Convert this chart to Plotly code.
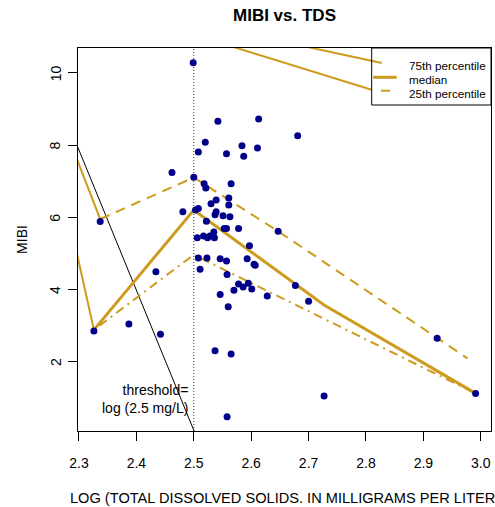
import plotly.graph_objects as go

FONT = "Liberation Sans, Arial, Helvetica, sans-serif"
GOLD = "#CD9B1D"
NAVY = "#00008B"

# Site observations: log10 of total dissolved solids (mg/L) and MIBI score
log_tds = [
    2.499, 2.542, 2.613, 2.681, 2.520, 2.508, 2.584, 2.611, 2.557, 2.587,
    2.462, 2.500, 2.518, 2.521, 2.565, 2.561, 2.539, 2.530, 2.561, 2.539,
    2.537, 2.551, 2.563, 2.481, 2.503, 2.508, 2.522, 2.553, 2.557, 2.578,
    2.647, 2.535, 2.506, 2.517, 2.524, 2.528, 2.536, 2.597, 2.508, 2.523,
    2.546, 2.557, 2.593, 2.605, 2.607, 2.511, 2.558, 2.578, 2.586, 2.595,
    2.601, 2.570, 2.628, 2.546, 2.560, 2.677, 2.700, 2.442, 2.537, 2.565,
    2.558, 2.924, 2.991, 2.727, 2.337, 2.434, 2.387, 2.326,
]
mibi = [
    10.28, 8.66, 8.72, 8.26, 8.08, 7.81, 7.98, 7.92, 7.76, 7.69,
    7.24, 7.11, 6.93, 6.81, 6.93, 6.53, 6.48, 6.37, 6.34, 6.15,
    6.07, 6.04, 6.01, 6.15, 6.20, 6.24, 5.89, 5.69, 5.69, 5.69,
    5.61, 5.59, 5.43, 5.48, 5.43, 5.48, 5.43, 5.21, 4.87, 4.87,
    4.85, 4.79, 4.85, 4.70, 4.67, 4.56, 4.41, 4.15, 4.07, 4.17,
    4.01, 3.98, 3.82, 3.86, 3.52, 4.11, 3.67, 2.76, 2.30, 2.21,
    0.47, 2.65, 1.12, 1.05, 5.88, 4.49, 3.04, 2.85,
]

# Quantile curves of MIBI along log TDS
q75_x = [2.337, 2.500, 2.647, 2.924, 2.977]
q75_y = [5.95, 7.10, 5.61, 2.65, 2.09]
q50_x = [2.326, 2.500, 2.727, 2.991]
q50_y = [2.88, 6.20, 3.57, 1.12]
q25_x = [2.326, 2.500, 2.991]
q25_y = [2.88, 4.96, 1.12]

# Curve tails that run outside the plotting region (clipped at the frame)
tail_x = [2.29, 2.337, None, 2.29, 2.326, None, 2.68, 2.8273, None, 2.55, 2.8099]
tail_y = [7.87, 5.95, None, 5.45, 2.88, None, 10.78, 10.27, None, 10.81, 9.53]

# Threshold at log10(TDS) = 2.5 and the reference line a + b*x
threshold = 2.5
ref_a, ref_b = 97.1, -38.8

x_ticks = [2.3, 2.4, 2.5, 2.6, 2.7, 2.8, 2.9, 3.0]
x_ticktext = ["2.3", "2.4", "2.5", "2.6", "2.7", "2.8", "2.9", "3.0"]
y_ticks = [2, 4, 6, 8, 10]
y_ticktext = ["2", "4", "6", "8", "10"]

x_range = [2.2983, 3.0178]
y_range = [0.078, 10.688]

fig = go.Figure()

ref_x = [x_range[0] - 0.01, x_range[1]]
fig.add_trace(go.Scatter(
    x=ref_x, y=[ref_a + ref_b * v for v in ref_x], mode="lines",
    line=dict(color="black", width=1), hoverinfo="skip", showlegend=False))

fig.add_trace(go.Scatter(
    x=tail_x, y=tail_y, mode="lines", connectgaps=False,
    line=dict(color=GOLD, width=2), hoverinfo="skip", showlegend=False))

fig.add_trace(go.Scatter(
    x=q75_x, y=q75_y, mode="lines", name="75th percentile",
    line=dict(color=GOLD, width=2, dash="10px,7px"), showlegend=False))
fig.add_trace(go.Scatter(
    x=q50_x, y=q50_y, mode="lines", name="median",
    line=dict(color=GOLD, width=3), showlegend=False))
fig.add_trace(go.Scatter(
    x=q25_x, y=q25_y, mode="lines", name="25th percentile",
    line=dict(color=GOLD, width=2, dash="2px,5px,9px,5px"), showlegend=False))

fig.add_trace(go.Scatter(
    x=log_tds, y=mibi, mode="markers", name="sites",
    marker=dict(color=NAVY, size=7, line=dict(width=0)), showlegend=False))

# Threshold marker line
fig.add_shape(type="line", xref="x", yref="paper", x0=threshold, x1=threshold,
              y0=0, y1=1, line=dict(color="#333333", width=1, dash="1px,2px"))

fig.add_annotation(x=threshold, y=0.965, xref="x", yref="y",
                   text="threshold=<br>log (2.5 mg/L)", showarrow=False,
                   xanchor="right", yanchor="middle", align="right", xshift=-4,
                   font=dict(family=FONT, size=14, color="black"))

# Legend box drawn in the top-right corner of the frame
fig.add_shape(type="rect", xref="paper", yref="paper",
              x0=0.7111, x1=1.0, y0=0.8512, y1=1.0,
              line=dict(color="black", width=1), fillcolor="rgba(0,0,0,0)")
fig.add_shape(type="line", xref="paper", yref="paper",
              x0=0.715, x1=0.7717, y0=0.9235, y1=0.9235,
              line=dict(color=GOLD, width=3))
fig.add_shape(type="line", xref="paper", yref="paper",
              x0=0.7337, x1=0.7554, y0=0.8885, y1=0.8885,
              line=dict(color=GOLD, width=2))
for label, ypos in [("75th percentile", 0.9556), ("median", 0.9178), ("25th percentile", 0.8799)]:
    fig.add_annotation(x=0.7959, y=ypos, xref="paper", yref="paper", text=label,
                       showarrow=False, xanchor="left", yanchor="middle",
                       font=dict(family=FONT, size=11.7, color="black"))

# Y tick labels, set parallel to the axis
for val, txt in zip(y_ticks, y_ticktext):
    fig.add_annotation(x=-0.0545, y=val, xref="paper", yref="y", text=txt,
                       showarrow=False, textangle=-90, xanchor="center", yanchor="middle",
                       font=dict(family=FONT, size=14, color="black"))

# Axis titles
fig.add_annotation(x=0.5, y=-0.174, xref="paper", yref="paper",
                   text="LOG (TOTAL DISSOLVED SOLIDS. IN MILLIGRAMS PER LITER)",
                   showarrow=False, xanchor="center", yanchor="middle",
                   font=dict(family=FONT, size=14.6, color="black"))
fig.add_annotation(x=-0.137, y=0.5, xref="paper", yref="paper", text="MIBI",
                   showarrow=False, textangle=-90, xanchor="center", yanchor="middle",
                   font=dict(family=FONT, size=14, color="black"))

fig.update_layout(
    width=495, height=507,
    margin=dict(l=78, r=4, t=48, b=76),
    paper_bgcolor="white", plot_bgcolor="white",
    font=dict(family=FONT, size=14, color="black"),
    title=dict(text="<b>MIBI vs. TDS</b>", x=0.5, xref="paper", y=1 - 15 / 507,
               yref="container", xanchor="center", yanchor="middle",
               font=dict(family=FONT, size=17, color="black")),
    showlegend=False,
)
fig.update_xaxes(range=x_range, tickvals=x_ticks, ticktext=x_ticktext,
                 ticks="outside", ticklen=9, tickwidth=1, tickcolor="black",
                 showline=True, linecolor="black", linewidth=1, mirror=True,
                 showgrid=False, zeroline=False, ticklabelstandoff=10,
                 tickfont=dict(family=FONT, size=14, color="black"))
fig.update_yaxes(range=y_range, tickvals=y_ticks, showticklabels=False,
                 ticks="outside", ticklen=9, tickwidth=1, tickcolor="black",
                 showline=True, linecolor="black", linewidth=1, mirror=True,
                 showgrid=False, zeroline=False)

fig.write_html("out.html")
